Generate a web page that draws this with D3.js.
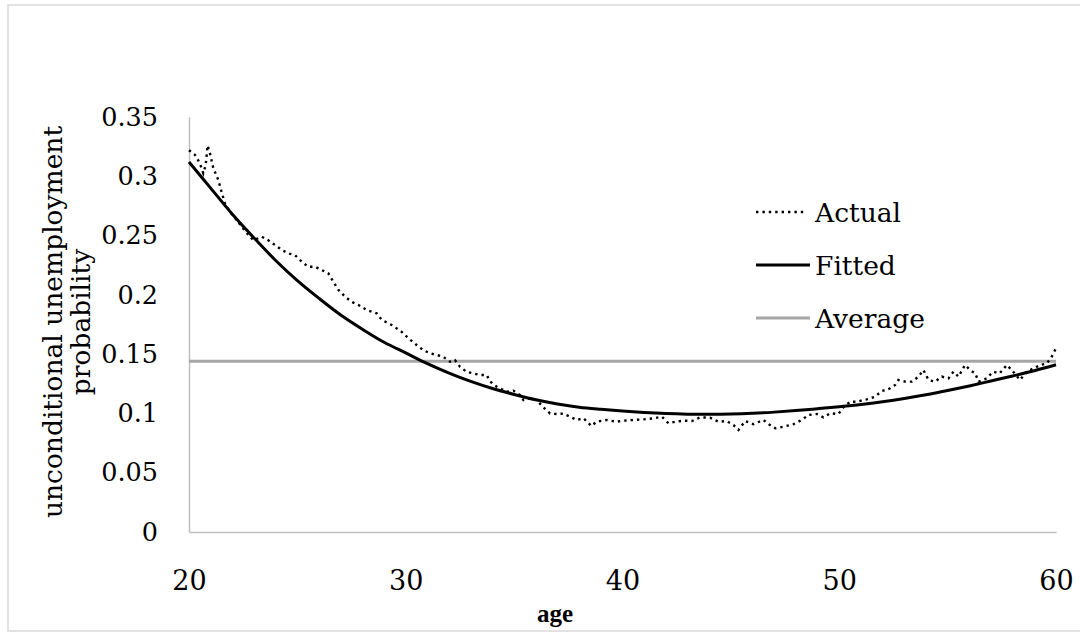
<!DOCTYPE html>
<html>
<head>
<meta charset="utf-8">
<script src="https://cdn.jsdelivr.net/npm/d3@7/dist/d3.min.js"></script>
<style>
  html, body { margin: 0; padding: 0; background: #fff; }
  svg { display: block; }
</style>
</head>
<body>
<svg id="chart" width="1080" height="632"></svg>
<script>
// ages, with the actual rate at each
var actualAges = [20.00, 20.28, 20.50, 20.66, 20.77, 20.86, 20.97, 21.12, 21.35, 21.50,
  21.66, 21.89, 22.12, 22.43, 22.74, 22.97, 23.36, 23.66, 23.97, 24.28,
  24.58, 24.89, 25.20, 25.50, 25.81, 26.12, 26.43, 26.66, 26.90, 27.20,
  27.50, 27.82, 28.20, 28.66, 28.90, 29.35, 29.80, 30.15, 30.50, 30.80,
  31.12, 31.43, 31.73, 32.04, 32.27, 32.50, 32.80, 33.10, 33.43, 33.73,
  33.90, 34.20, 34.66, 34.97, 35.27, 35.43, 35.73, 36.04, 36.35, 36.66,
  36.97, 37.27, 37.58, 37.89, 38.20, 38.57, 38.80, 39.27, 39.73, 40.04,
  40.50, 40.97, 41.43, 41.82, 42.12, 42.43, 42.82, 43.20, 43.58, 44.04,
  44.43, 44.80, 45.12, 45.35, 45.66, 46.04, 46.50, 46.80, 47.05, 47.43,
  47.90, 48.27, 48.58, 48.97, 49.27, 49.58, 49.96, 50.19, 50.50, 50.80,
  51.27, 51.65, 51.96, 52.27, 52.58, 52.73, 53.04, 53.35, 53.66, 53.88,
  54.12, 54.42, 54.73, 55.04, 55.27, 55.50, 55.80, 56.04, 56.27, 56.43,
  56.80, 57.10, 57.40, 57.73, 57.96, 58.34, 58.65, 58.96, 59.27, 59.58,
  59.80, 60.00];
var actualRates = [0.322, 0.318, 0.311, 0.3025, 0.3095, 0.326, 0.319, 0.307, 0.297, 0.287,
  0.277, 0.270, 0.265, 0.2575, 0.2505, 0.246, 0.249, 0.246, 0.242, 0.238,
  0.235, 0.2335, 0.228, 0.2237, 0.2237, 0.221, 0.218, 0.211, 0.204, 0.1985,
  0.1942, 0.1915, 0.1872, 0.1844, 0.1788, 0.1746, 0.169, 0.163, 0.1577, 0.1535,
  0.1507, 0.1493, 0.1478, 0.1436, 0.145, 0.1394, 0.1352, 0.1338, 0.1324, 0.1324,
  0.1268, 0.1225, 0.1183, 0.1192, 0.1155, 0.1113, 0.1127, 0.1113, 0.1051, 0.0999,
  0.0995, 0.0999, 0.0972, 0.0945, 0.0959, 0.0894, 0.093, 0.0945, 0.093, 0.0939,
  0.0945, 0.095, 0.0959, 0.0972, 0.0917, 0.093, 0.0939, 0.0936, 0.0967, 0.0964,
  0.093, 0.0936, 0.0902, 0.086, 0.0936, 0.091, 0.0945, 0.0902, 0.0875, 0.0888,
  0.091, 0.0945, 0.0987, 0.0995, 0.0967, 0.1001, 0.0995, 0.1051, 0.1099, 0.1099,
  0.1119, 0.1141, 0.1189, 0.1204, 0.124, 0.1282, 0.1268, 0.1268, 0.131, 0.1366,
  0.1282, 0.1268, 0.131, 0.1296, 0.1352, 0.131, 0.1408, 0.1366, 0.1338, 0.1268,
  0.1296, 0.1352, 0.1338, 0.1408, 0.1366, 0.1282, 0.1352, 0.138, 0.1408, 0.1422,
  0.1478, 0.155];

// fitted curve, one value per year of age
var fittedAges = d3.range(20, 61);
var fittedRates = [0.312, 0.290, 0.268, 0.248, 0.229, 0.212, 0.197, 0.183, 0.171, 0.160,
  0.151, 0.142, 0.134, 0.127, 0.121, 0.116, 0.1115, 0.108, 0.1053, 0.1035,
  0.102, 0.1008, 0.0999, 0.0994, 0.0993, 0.0995, 0.1001, 0.1011, 0.1024, 0.104,
  0.1057, 0.1076, 0.1099, 0.1126, 0.1157, 0.1193, 0.1232, 0.1274, 0.1316, 0.136,
  0.141];

var averageRate = 0.144;

var xTicks = [20, 30, 40, 50, 60];
var yTicks = [0, 0.05, 0.1, 0.15, 0.2, 0.25, 0.3, 0.35];
var yTickLabels = ['0', '0.05', '0.1', '0.15', '0.2', '0.25', '0.3', '0.35'];
var seriesNames = ['Actual', 'Fitted', 'Average'];

var svg = d3.select('#chart');
var serif = '"DejaVu Serif", serif';

// outer frame, only top and left edges show
svg.append('rect')
  .attr('x', 8).attr('y', 5)
  .attr('width', 1100).attr('height', 626)
  .attr('fill', 'none')
  .attr('stroke', '#d9d9d9')
  .attr('stroke-width', 1.5);

var x = d3.scaleLinear().domain([20, 60]).range([189, 1056]);
var y = d3.scaleLinear().domain([0, 0.35]).range([532, 117]);

// y axis
var yAxis = svg.append('g')
  .attr('transform', 'translate(' + x(20) + ',0)')
  .call(d3.axisLeft(y)
    .tickValues(yTicks)
    .tickSize(0)
    .tickPadding(31)
    .tickFormat(function (d, i) { return yTickLabels[i]; }));
yAxis.select('.domain').attr('stroke', '#bfbfbf').attr('stroke-width', 1.5);
yAxis.selectAll('text')
  .style('font-family', serif)
  .style('font-size', '25.5px')
  .attr('fill', '#000');

// x axis
var xAxis = svg.append('g')
  .attr('transform', 'translate(0,' + y(0) + ')')
  .call(d3.axisBottom(x)
    .tickValues(xTicks)
    .tickSize(0)
    .tickPadding(39)
    .tickFormat(d3.format('d')));
xAxis.select('.domain').attr('stroke', '#bfbfbf').attr('stroke-width', 1.5);
xAxis.selectAll('text')
  .style('font-family', serif)
  .style('font-size', '27px')
  .attr('fill', '#000');

// axis titles
var yTitle = svg.append('text')
  .attr('transform', 'translate(0,322) rotate(-90)')
  .attr('text-anchor', 'middle')
  .style('font-family', serif)
  .style('font-size', '26.5px');
yTitle.append('tspan').attr('x', 0).attr('y', 62).text('unconditional unemployment');
yTitle.append('tspan').attr('x', 0).attr('y', 90).text('probability');

svg.append('text')
  .attr('x', 555).attr('y', 622)
  .attr('text-anchor', 'middle')
  .style('font-family', '"Liberation Serif", serif')
  .style('font-weight', 'bold')
  .style('font-size', '25px')
  .text('age');

// average line
svg.append('line')
  .attr('x1', x(20)).attr('x2', x(60))
  .attr('y1', y(averageRate)).attr('y2', y(averageRate))
  .attr('stroke', '#a6a6a6')
  .attr('stroke-width', 3);

var actualData = actualAges.map(function (a, i) { return { age: a, rate: actualRates[i] }; });
var fittedData = fittedAges.map(function (a, i) { return { age: a, rate: fittedRates[i] }; });

var line = d3.line()
  .x(function (d) { return x(d.age); })
  .y(function (d) { return y(d.rate); });

// actual, dotted
svg.append('path')
  .datum(actualData)
  .attr('d', line)
  .attr('fill', 'none')
  .attr('stroke', '#000')
  .attr('stroke-width', 2.4)
  .attr('stroke-dasharray', '2.4,4');

// fitted, solid and smooth
svg.append('path')
  .datum(fittedData)
  .attr('d', line.curve(d3.curveCatmullRom))
  .attr('fill', 'none')
  .attr('stroke', '#000')
  .attr('stroke-width', 3);

// legend
var legendStyles = [
  { stroke: '#000', width: 2.4, dash: '2.4,4', x2: 806 },
  { stroke: '#000', width: 3, dash: null, x2: 810 },
  { stroke: '#a6a6a6', width: 3, dash: null, x2: 810 }
];
var legend = svg.append('g');
seriesNames.forEach(function (name, i) {
  var ly = 212 + i * 53;
  var st = legendStyles[i];
  legend.append('line')
    .attr('x1', 756).attr('x2', st.x2)
    .attr('y1', ly).attr('y2', ly)
    .attr('stroke', st.stroke)
    .attr('stroke-width', st.width)
    .attr('stroke-dasharray', st.dash);
  legend.append('text')
    .attr('x', 815).attr('y', ly + 10)
    .style('font-family', serif)
    .style('font-size', '26.5px')
    .text(name);
});
</script>
</body>
</html>
